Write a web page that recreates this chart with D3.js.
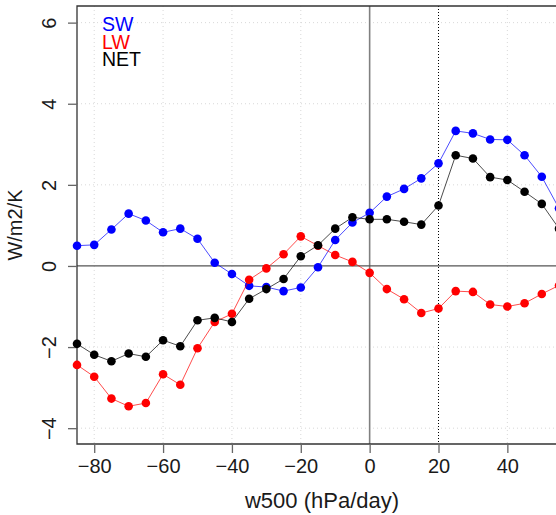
<!DOCTYPE html>
<html><head><meta charset="utf-8">
<script src="https://cdn.jsdelivr.net/npm/d3@7"></script>
<style>
html,body{margin:0;padding:0;background:#fff;}
svg{display:block;font-family:"Liberation Sans",Arial,sans-serif;}
</style></head>
<body>
<svg id="chart" width="556" height="515"></svg>
<script>
const w500 = [-85,-80,-75,-70,-65,-60,-55,-50,-45,-40,-35,-30,-25,-20,-15,-10,-5,0,5,10,15,20,25,30,35,40,45,50,55];
const SW  = [0.50,0.52,0.90,1.29,1.12,0.83,0.92,0.67,0.08,-0.20,-0.49,-0.52,-0.62,-0.53,-0.03,0.64,1.07,1.31,1.71,1.90,2.16,2.53,3.33,3.27,3.12,3.11,2.73,2.20,1.42];
const LW  = [-2.44,-2.73,-3.27,-3.46,-3.38,-2.67,-2.93,-2.03,-1.38,-1.18,-0.34,-0.06,0.29,0.73,0.50,0.27,0.10,-0.17,-0.57,-0.82,-1.16,-1.05,-0.62,-0.64,-0.95,-1.00,-0.92,-0.69,-0.48];
const NET = [-1.92,-2.19,-2.35,-2.16,-2.24,-1.83,-1.98,-1.34,-1.28,-1.38,-0.81,-0.57,-0.32,0.24,0.51,0.92,1.20,1.15,1.15,1.09,1.02,1.49,2.73,2.65,2.19,2.12,1.83,1.53,0.92];
const seriesNames = ["SW","LW","NET"];
const seriesColors = ["#0000ff","#ff0000","#000000"];
const xTicks = [-80,-60,-40,-20,0,20,40];
const yTicks = [-4,-2,0,2,4,6];
const xLabel = "w500 (hPa/day)";
const yLabel = "W/m2/K";

const svg = d3.select("#chart");
const L = 77, R = 559, T = 6, B = 444;
const x = d3.scaleLinear().domain([-85,55]).range([L,R]);
const y = d3.scaleLinear().domain([-4.39,6.41]).range([B,T]);
const fmt = d=>d3.format("")(d).replace("-","\u2212");

// grid
const g = svg.append("g");
g.selectAll(".gx").data(xTicks.filter(v=>v!==0 && v!==20)).enter().append("line")
  .attr("x1",d=>x(d)).attr("x2",d=>x(d)).attr("y1",T).attr("y2",B)
  .attr("stroke","#d8d8d8").attr("stroke-width",1).attr("stroke-dasharray","1,3");
g.selectAll(".gy").data(yTicks.filter(v=>v!==0)).enter().append("line")
  .attr("x1",L).attr("x2",R).attr("y1",d=>y(d)).attr("y2",d=>y(d))
  .attr("stroke","#d8d8d8").attr("stroke-width",1).attr("stroke-dasharray","1,3");
// reference lines
g.append("line").attr("x1",x(0)).attr("x2",x(0)).attr("y1",T).attr("y2",B)
  .attr("stroke","#808080").attr("stroke-width",1.6);
g.append("line").attr("x1",L).attr("x2",R).attr("y1",y(0)).attr("y2",y(0))
  .attr("stroke","#555").attr("stroke-width",1.2);
g.append("line").attr("x1",x(20)).attr("x2",x(20)).attr("y1",T).attr("y2",B)
  .attr("stroke","#000").attr("stroke-width",1).attr("stroke-dasharray","1,2");

// box
svg.append("path").attr("d",`M${R+5},${T}H${L}V${B}H${R+5}`)
  .attr("fill","none").attr("stroke","#333").attr("stroke-width",1.3);

// axes
const xAxis = d3.axisBottom(x).tickValues(xTicks).tickSize(9).tickPadding(6).tickFormat(fmt);
const gx = svg.append("g").attr("transform",`translate(0,${B})`).call(xAxis);
gx.select(".domain").remove();
gx.selectAll(".tick line").attr("stroke","#666").attr("stroke-width",1.3);
gx.selectAll(".tick text").attr("font-size",20).attr("fill","#1a1a1a").attr("font-family","Liberation Sans, Arial, sans-serif");

const yAxis = d3.axisLeft(y).tickValues(yTicks).tickSize(9).tickFormat(fmt);
const gy = svg.append("g").attr("transform",`translate(${L},0)`).call(yAxis);
gy.select(".domain").remove();
gy.selectAll(".tick line").attr("stroke","#666").attr("stroke-width",1.3);
gy.selectAll(".tick text").remove();
gy.selectAll(".tick").append("text")
  .attr("transform","translate(-28,0) rotate(-90)")
  .attr("text-anchor","middle").attr("dy","0.35em")
  .attr("font-size",20).attr("fill","#1a1a1a")
  .attr("font-family","Liberation Sans, Arial, sans-serif")
  .text(fmt);

// axis labels
svg.append("text").attr("x",(L+R)/2 + 4).attr("y",508).attr("text-anchor","middle")
  .attr("font-size",22).attr("fill","#1a1a1a").text(xLabel);
svg.append("text").attr("transform",`translate(22,${(T+B)/2}) rotate(-90)`)
  .attr("text-anchor","middle").attr("font-size",20).attr("fill","#1a1a1a").text(yLabel);

// series
const data = [SW, LW, NET];
const line = d3.line().x((d,i)=>x(w500[i])).y(d=>y(d));
data.forEach((vals,k)=>{
  const sg = svg.append("g");
  sg.append("path").datum(vals).attr("d",line).attr("fill","none")
    .attr("stroke",seriesColors[k]).attr("stroke-width",1).attr("stroke-opacity",0.7);
  sg.selectAll("circle").data(vals).enter().append("circle")
    .attr("cx",(d,i)=>x(w500[i])).attr("cy",d=>y(d)).attr("r",4.3)
    .attr("fill",seriesColors[k]);
});

// legend
seriesNames.forEach((n,k)=>{
  svg.append("text").attr("x",102).attr("y",31+k*17.5).attr("font-size",19.5)
    .attr("fill",seriesColors[k]).text(n);
});
</script>
</body></html>
